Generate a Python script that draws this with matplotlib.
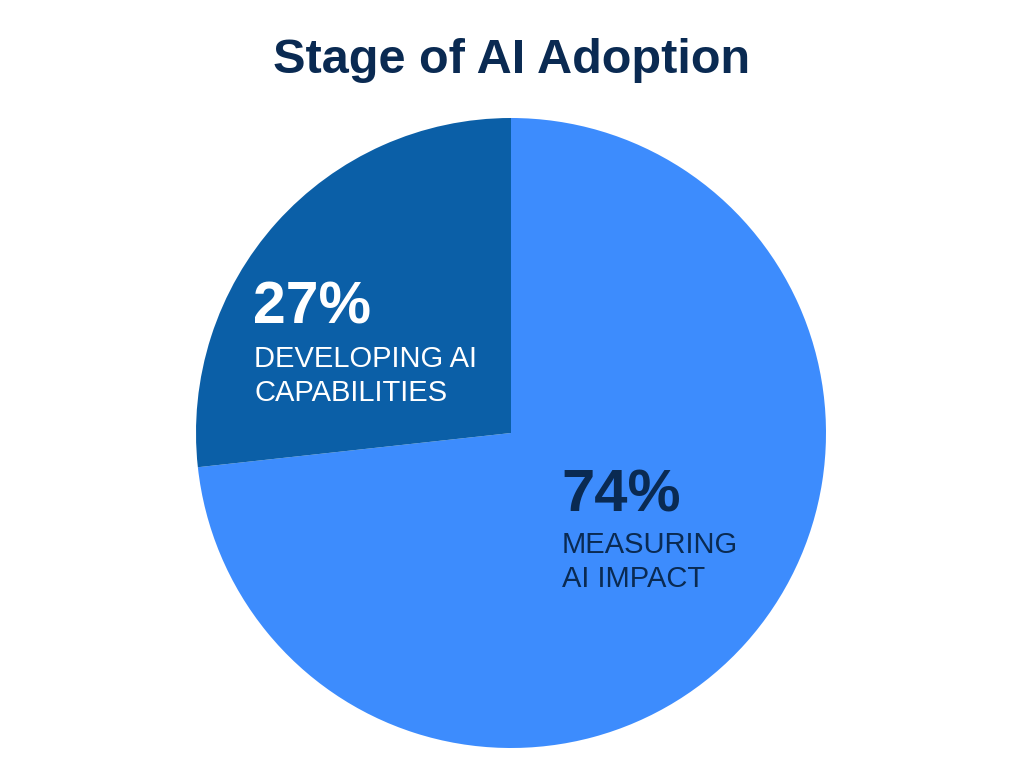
import matplotlib
matplotlib.use("Agg")
import matplotlib.pyplot as plt

title = "Stage of AI Adoption"
labels = ["MEASURING\nAI IMPACT", "DEVELOPING AI\nCAPABILITIES"]
values = [74, 27]
pct_labels = ["74%", "27%"]
colors = ["#3D8CFD", "#0B5FA7"]
navy = "#0A2A52"

plt.rcParams['font.family'] = ['Liberation Sans', 'DejaVu Sans']

W, H = 1024, 768
fig = plt.figure(figsize=(W / 100, H / 100), dpi=100)
ax = fig.add_axes([0, 0, 1, 1])

cx, cy, r = 511, H - 433, 315
ax.pie(values, colors=colors, startangle=90, counterclock=False,
       center=(cx, cy), radius=r, frame=True,
       wedgeprops=dict(linewidth=0))
ax.set_xlim(0, W)
ax.set_ylim(0, H)
ax.set_aspect('equal')
ax.axis('off')

fig.text(0.5, 1 - 73 / H, title, ha='center', va='baseline',
         fontsize=35, fontweight='bold', color=navy)

def put(x, y, s, **kw):
    ax.text(x, H - y, s, ha='left', va='baseline', **kw)

put(253, 324, pct_labels[1], fontsize=42.5, fontweight='bold', color='white')
l1, l2 = labels[1].split("\n")
put(254, 367, l1, fontsize=21, color='white')
put(254, 401, l2, fontsize=21, color='white')

put(561, 512, pct_labels[0], fontsize=43, fontweight='bold', color=navy)
m1, m2 = labels[0].split("\n")
put(562, 553, m1, fontsize=21, color=navy)
put(562, 587, m2, fontsize=21, color=navy)

fig.savefig("out.png", dpi=100, facecolor='white')
